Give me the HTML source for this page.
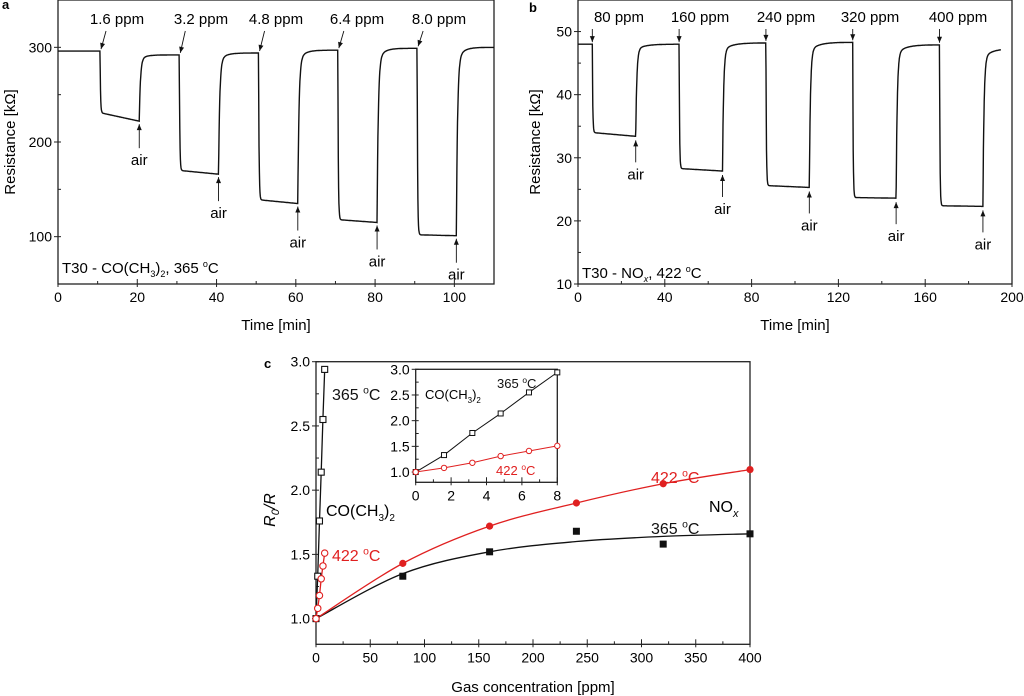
<!DOCTYPE html>
<html><head><meta charset="utf-8"><style>
html,body{margin:0;padding:0;background:#fff;}
svg{display:block;font-family:"Liberation Sans",Arial,sans-serif;}
</style></head><body>
<svg id="fig" width="1024" height="696" viewBox="0 0 1024 696"></svg>
<script>
// ---- Panel a data ----
const aOn=[10.6,30.6,50.6,70.6,90.6];
const aOff=[20.5,40.5,60.5,80.5,100.5];
const aBase=[296,292,294,297,299,300];
const aLowStart=[231,170,139,118,102];
const aLowEnd=[222,166,135,115,101];
const aConc=["1.6 ppm","3.2 ppm","4.8 ppm","6.4 ppm","8.0 ppm"];
const aXTicks=[0,20,40,60,80,100];
const aYTicks=[100,200,300];
// ---- Panel b data ----
const bOn=[6.6,46.6,86.6,126.6,166.6];
const bOff=[26.6,66.6,106.6,146.6,186.6];
const bBase=[48,48,48.2,48.3,47.9,47.3];
const bLowStart=[34,28.3,25.6,23.7,22.4];
const bLowEnd=[33.4,27.9,25.3,23.6,22.3];
const bConc=["80 ppm","160 ppm","240 ppm","320 ppm","400 ppm"];
const bXTicks=[0,40,80,120,160,200];
const bYTicks=[10,20,30,40,50];
// ---- Panel c data ----
const coConc=[0,1.6,3.2,4.8,6.4,8];
const co365=[1.0,1.33,1.76,2.14,2.55,2.94];
const co422=[1.0,1.08,1.18,1.31,1.41,1.51];
const noConc=[0,80,160,240,320,400];
const no422=[1.0,1.43,1.72,1.9,2.05,2.16];
const no365=[1.0,1.33,1.52,1.68,1.58,1.66];
const no365Fit=[1.0,1.35,1.52,1.60,1.64,1.66];
const cXTicks=[0,50,100,150,200,250,300,350,400];
const cYTicks=[1.0,1.5,2.0,2.5,3.0];
const insXTicks=[0,2,4,6,8];
const insYTicks=[1.0,1.5,2.0,2.5,3.0];

const NS="http://www.w3.org/2000/svg";
const fig=document.getElementById('fig');
function el(tag,attrs,parent,text){const e=document.createElementNS(NS,tag);for(const k in attrs)e.setAttribute(k,attrs[k]);if(text!==undefined)e.textContent=text;(parent||fig).appendChild(e);return e;}
function lin(d0,d1,r0,r1){return v=>r0+(v-d0)*(r1-r0)/(d1-d0);}

function axes(g,x0,x1,y0,y1,xs,ys,xt,yt,xminor,yminor,fs,fmtY){
  el('rect',{x:x0,y:y1,width:x1-x0,height:y0-y1,fill:'none',stroke:'#222','stroke-width':1.3},g);
  xt.forEach(v=>{const px=xs(v);el('line',{x1:px,x2:px,y1:y0-5,y2:y0+3,stroke:'#222'},g);
    el('text',{x:px,y:y0+18,'font-size':fs,'text-anchor':'middle'},g,String(v));});
  xminor.forEach(v=>{const px=xs(v);el('line',{x1:px,x2:px,y1:y0-3,y2:y0,stroke:'#222'},g);});
  yt.forEach(v=>{const py=ys(v);el('line',{x1:x0-4,x2:x0+3,y1:py,y2:py,stroke:'#222'},g);
    el('text',{x:x0-6,y:py+5,'font-size':fs,'text-anchor':'end'},g,fmtY?fmtY(v):String(v));});
  yminor.forEach(v=>{const py=ys(v);el('line',{x1:x0,x2:x0+3,y1:py,y2:py,stroke:'#222'},g);});
}
function trace(t,on,off,base,l0,l1,tau,tau2,slowF,slowT){
  if(t<on[0])return base[0];
  for(let i=0;i<on.length;i++){
    const next=i+1<on.length?on[i+1]:1e9;
    if(t>=on[i]&&t<off[i]){const f=(t-on[i])/(off[i]-on[i]);const l=l0[i]+(l1[i]-l0[i])*f;return l+(base[i]-l)*Math.exp(-(t-on[i])/tau);}
    if(t>=off[i]&&t<next){const b=base[i+1];return b-(b-l1[i])*((1-slowF)*Math.exp(-(t-off[i])/tau2)+slowF*Math.exp(-(t-off[i])/slowT));}
  }
  return base[base.length-1];
}
function degText(g,x,y,num,fs,fill,anchor){
  const t=el('text',{x:x,y:y,'font-size':fs,fill:fill||'#111','text-anchor':anchor||'start'},g);
  el('tspan',{},t,num+' ');
  el('tspan',{dy:-fs*0.4,'font-size':fs*0.65},t,'o');
  el('tspan',{dy:fs*0.4},t,'C');
  return t;
}
function arrow(g,x1,y1,x2,y2){
  el('line',{x1:x1,y1:y1,x2:x2,y2:y2,stroke:'#111','stroke-width':0.9},g);
  const a=Math.atan2(y2-y1,x2-x1),L=6,W=2.5;
  const p=[[x2,y2],[x2-L*Math.cos(a)+W*Math.sin(a),y2-L*Math.sin(a)-W*Math.cos(a)],[x2-L*Math.cos(a)-W*Math.sin(a),y2-L*Math.sin(a)+W*Math.cos(a)]];
  el('polygon',{points:p.map(q=>q.join(',')).join(' '),fill:'#111'},g);
}

// ===== Panel a =====
{
const g=el('g',{});


const xs=lin(0,110,58,494), ys=lin(50,350,284,0);
axes(g,58,494,284,0,xs,ys,aXTicks,aYTicks,[10,30,50,70,90,110],[150,250],14);
let d='';for(let t=0;t<=110;t+=0.08){d+=(d?'L':'M')+xs(t).toFixed(1)+','+ys(trace(t,aOn,aOff,aBase,aLowStart,aLowEnd,0.12,0.3,0.07,1.5)).toFixed(1);}
const p=el('path',{d:d,fill:'none',stroke:'#111','stroke-width':1.4},g);

const lx=[117,201,276,357,439];
aConc.forEach((c,i)=>{const t=el('text',{x:lx[i],y:24,'font-size':15,'text-anchor':'middle'},g,c);
  
  arrow(g,xs(aOn[i])+6,31,xs(aOn[i])+1,ys(aBase[i])-2);
  const xo=xs(aOff[i]),ty=ys(aLowEnd[i])+3;
  arrow(g,xo,ty+24,xo,ty);
  const at=el('text',{x:xo,y:ty+41,'font-size':15,'text-anchor':'middle'},g,'air');
  
});
const lab=el('text',{x:62,y:273,'font-size':15},g);

el('tspan',{},lab,'T30 - CO(CH');el('tspan',{dy:4,'font-size':9},lab,'3');el('tspan',{dy:-4},lab,')');el('tspan',{dy:4,'font-size':9},lab,'2');el('tspan',{dy:-4},lab,', 365 ');el('tspan',{dy:-6,'font-size':9},lab,'o');el('tspan',{dy:6},lab,'C');
const xl=el('text',{x:276,y:330,'font-size':15,'text-anchor':'middle'},g,'Time [min]');

const yl=el('text',{x:0,y:0,'font-size':15,'text-anchor':'middle',transform:'translate(15,142) rotate(-90)'},g,'Resistance [kΩ]');

const pl=el('text',{x:2,y:9,'font-size':13,'font-weight':'bold'},g,'a');

}
// ===== Panel b =====
{
const g=el('g',{});


const xs=lin(0,200,578,1012), ys=lin(10,55,284,0);
axes(g,578,1012,284,0,xs,ys,bXTicks,bYTicks,[20,60,100,140,180],[15,25,35,45],14);
let d='';for(let t=0;t<=195;t+=0.12){d+=(d?'L':'M')+xs(t).toFixed(1)+','+ys(trace(t,bOn,bOff,bBase,bLowStart,bLowEnd,0.2,0.5,0.06,4)).toFixed(1);}
const p=el('path',{d:d,fill:'none',stroke:'#111','stroke-width':1.4},g);

const lx=[619,700,786,870,958];
bConc.forEach((c,i)=>{const t=el('text',{x:lx[i],y:22,'font-size':15,'text-anchor':'middle'},g,c);
  
  arrow(g,xs(bOn[i]),29,xs(bOn[i]),ys(bBase[i])-2);
  const xo=xs(bOff[i]),ty=ys(bLowEnd[i])+4;
  arrow(g,xo,ty+22,xo,ty);
  const at=el('text',{x:xo,y:ty+39,'font-size':15,'text-anchor':'middle'},g,'air');
  
});
const lab=el('text',{x:582,y:278,'font-size':15},g);

el('tspan',{},lab,'T30 - NO');el('tspan',{dy:4,'font-size':9,'font-style':'italic'},lab,'x');el('tspan',{dy:-4},lab,', 422 ');el('tspan',{dy:-6,'font-size':9},lab,'o');el('tspan',{dy:6},lab,'C');
const xl=el('text',{x:795,y:330,'font-size':15,'text-anchor':'middle'},g,'Time [min]');

const yl=el('text',{x:0,y:0,'font-size':15,'text-anchor':'middle',transform:'translate(540,142) rotate(-90)'},g,'Resistance [kΩ]');

const pl=el('text',{x:529,y:12,'font-size':13,'font-weight':'bold'},g,'b');

}
// ===== Panel c =====
{
const g=el('g',{});


const xs=lin(0,400,316,750), ys=lin(0.8,3.0,644.3,361.7);
axes(g,316,750,644.3,361.7,xs,ys,cXTicks,cYTicks,[25,75,125,175,225,275,325,375],[1.25,1.75,2.25,2.75],14,v=>v.toFixed(1));
function poly(xa,ya,col,name){const pl=el('polyline',{points:xa.map((x,i)=>xs(x).toFixed(1)+','+ys(ya[i]).toFixed(1)).join(' '),fill:'none',stroke:col,'stroke-width':1.3},g);}
function smooth(xa,ya,col,name){
  const P=xa.map((x,i)=>[xs(x),ys(ya[i])]);let d='M'+P[0].join(',');
  for(let i=0;i<P.length-1;i++){const p0=P[Math.max(0,i-1)],p1=P[i],p2=P[i+1],p3=P[Math.min(P.length-1,i+2)];
    d+='C'+(p1[0]+(p2[0]-p0[0])/6)+','+(p1[1]+(p2[1]-p0[1])/6)+' '+(p2[0]-(p3[0]-p1[0])/6)+','+(p2[1]-(p3[1]-p1[1])/6)+' '+p2[0]+','+p2[1];}
  const pa=el('path',{d:d,fill:'none',stroke:col,'stroke-width':1.3},g);}
poly(coConc,co365,'#111','co-365-line');
poly(coConc,co422,'#e02020','co-422-line');
smooth(noConc,no365Fit,'#111','nox-365-fit');
smooth(noConc,no422,'#e02020','nox-422-fit');
coConc.forEach((x,i)=>{const r=el('rect',{x:xs(x)-3,y:ys(co365[i])-3,width:6,height:6,fill:'#fff',stroke:'#111','stroke-width':1.1},g);
  const c=el('circle',{cx:xs(x),cy:ys(co422[i]),r:3.2,fill:'#fff',stroke:'#e02020','stroke-width':1.1},g);});
noConc.forEach((x,i)=>{if(i>0){const c=el('circle',{cx:xs(x),cy:ys(no422[i]),r:3.6,fill:'#e02020'},g);
  const r=el('rect',{x:xs(x)-3.5,y:ys(no365[i])-3.5,width:7,height:7,fill:'#111'},g);}});
degText(g,332,400,'365',16);
const co=el('text',{x:326,y:516,'font-size':16},g);el('tspan',{},co,'CO(CH');el('tspan',{dy:5,'font-size':10},co,'3');el('tspan',{dy:-5},co,')');el('tspan',{dy:5,'font-size':10},co,'2');

degText(g,332,561,'422',16,'#e02020');
degText(g,651,483,'422',16,'#e02020');
degText(g,651,534,'365',16);
const nx=el('text',{x:709,y:512,'font-size':16},g);el('tspan',{},nx,'NO');el('tspan',{dy:5,'font-size':11,'font-style':'italic'},nx,'x');

const xl=el('text',{x:533,y:692,'font-size':15,'text-anchor':'middle'},g,'Gas concentration [ppm]');

const yl=el('text',{'font-size':16,'font-style':'italic','text-anchor':'middle',transform:'translate(275,510) rotate(-90)'},g);
el('tspan',{},yl,'R');el('tspan',{dy:4,'font-size':11},yl,'0');el('tspan',{dy:-4},yl,'/R');

const pl=el('text',{x:264,y:368,'font-size':13,'font-weight':'bold'},g,'c');

// inset
const ig=el('g',{},g);

const ixs=lin(0,8,415.7,557.3), iys=lin(0.8,3.0,482.3,369.3);
el('rect',{x:415.7,y:369.3,width:141.6,height:113,fill:'#fff'},ig);
axes(ig,415.7,557.3,482.3,369.3,ixs,iys,insXTicks,insYTicks,[1,3,5,7],[1.25,1.75,2.25,2.75],14,v=>v.toFixed(1));
const l1=el('polyline',{points:coConc.map((x,i)=>ixs(x)+','+iys(co365[i])).join(' '),fill:'none',stroke:'#111','stroke-width':1},ig);

const l2=el('polyline',{points:coConc.map((x,i)=>ixs(x)+','+iys(co422[i])).join(' '),fill:'none',stroke:'#e02020','stroke-width':1},ig);

coConc.forEach((x,i)=>{const r=el('rect',{x:ixs(x)-2.5,y:iys(co365[i])-2.5,width:5,height:5,fill:'#fff',stroke:'#111'},ig);
  const c=el('circle',{cx:ixs(x),cy:iys(co422[i]),r:2.7,fill:'#fff',stroke:'#e02020'},ig);});
degText(ig,497,388,'365',13);
const ic=el('text',{x:425,y:399,'font-size':13},ig);el('tspan',{},ic,'CO(CH');el('tspan',{dy:4,'font-size':8},ic,'3');el('tspan',{dy:-4},ic,')');el('tspan',{dy:4,'font-size':8},ic,'2');

degText(ig,496,475,'422',13,'#e02020');
}
</script>
</body></html>
